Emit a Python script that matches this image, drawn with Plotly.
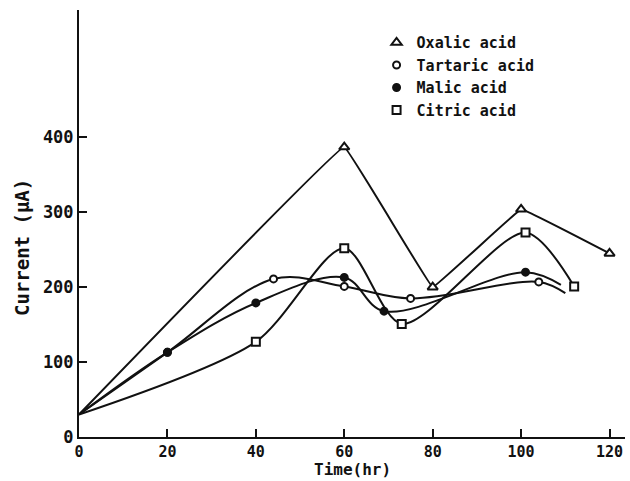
import plotly.graph_objects as go

# Current (µA) measured against time (hr) for four organic acids
oxalic_t = [0, 60, 80, 100, 120]
oxalic_i = [30, 387, 200, 304, 245]

tartaric_t = [0, 20, 44, 60, 75, 104, 110]
tartaric_i = [30, 113, 211, 201, 185, 207, 192]

malic_t = [0, 20, 40, 60, 69, 101, 109]
malic_i = [30, 113, 179, 213, 168, 220, 203]

citric_t = [0, 40, 60, 73, 101, 112]
citric_i = [30, 127, 252, 151, 273, 201]

x_ticks = [0, 20, 40, 60, 80, 100, 120]
y_ticks = [0, 100, 200, 300, 400]

FONT = "DejaVu Sans Mono"
INK = "#111111"

# (name, times, currents, first/last index carrying a symbol, symbol, fill, size, smoothing)
series = [
    ("Oxalic acid", oxalic_t, oxalic_i, 1, None, "triangle-up", "white", 9, 0.1),
    ("Tartaric acid", tartaric_t, tartaric_i, 1, -1, "circle", "white", 7, 1.0),
    ("Malic acid", malic_t, malic_i, 1, -1, "circle", INK, 7, 1.0),
    ("Citric acid", citric_t, citric_i, 1, None, "square", "white", 8, 0.8),
]

fig = go.Figure()

# curves first, so every symbol sits on top of the lines
for name, t, i, a, b, sym, fill, size, smooth in series:
    fig.add_trace(go.Scatter(
        x=t, y=i, mode="lines", showlegend=False, hoverinfo="skip",
        line=dict(color=INK, width=2, shape="spline", smoothing=smooth),
    ))

for name, t, i, a, b, sym, fill, size, smooth in series:
    fig.add_trace(go.Scatter(
        x=t[a:b], y=i[a:b], mode="markers", name=name,
        marker=dict(symbol=sym, size=size, color=fill,
                    line=dict(color=INK, width=2)),
    ))

fig.update_layout(
    width=630, height=481,
    margin=dict(l=79, r=5, t=10, b=44),
    paper_bgcolor="white", plot_bgcolor="white",
    font=dict(family=FONT, size=15, color=INK, weight="bold"),
    showlegend=True,
    legend=dict(
        x=0.545, y=0.962, xanchor="left", yanchor="top",
        bgcolor="rgba(0,0,0,0)", borderwidth=0,
        font=dict(family=FONT, size=15, color=INK, weight="bold"),
        itemwidth=30, tracegroupgap=0,
    ),
    xaxis=dict(
        range=[0, 123.5], tickvals=x_ticks, ticktext=[str(v) for v in x_ticks],
        ticks="inside", ticklen=8, tickwidth=2, tickcolor=INK,
        showline=True, linewidth=2, linecolor=INK, mirror=False,
        showgrid=False, zeroline=False,
        tickfont=dict(family=FONT, size=15, color=INK, weight="bold"),
    ),
    yaxis=dict(
        range=[0, 570], tickvals=y_ticks, ticktext=[str(v) for v in y_ticks],
        ticks="inside", ticklen=8, tickwidth=2, tickcolor=INK,
        showline=True, linewidth=2, linecolor=INK, mirror=False,
        showgrid=False, zeroline=False,
        tickfont=dict(family=FONT, size=17, color=INK, weight="bold"),
    ),
    annotations=[
        dict(text="Time(hr)", xref="paper", yref="paper", x=0.5, y=-0.077,
             xanchor="center", yanchor="middle", showarrow=False,
             font=dict(family=FONT, size=16, color=INK, weight="bold")),
        dict(text="Current (μA)", xref="paper", yref="paper", x=-0.104, y=0.443,
             xanchor="center", yanchor="middle", showarrow=False, textangle=-90,
             font=dict(family=FONT, size=19, color=INK, weight="bold")),
    ],
)

fig.write_html("out.html")
